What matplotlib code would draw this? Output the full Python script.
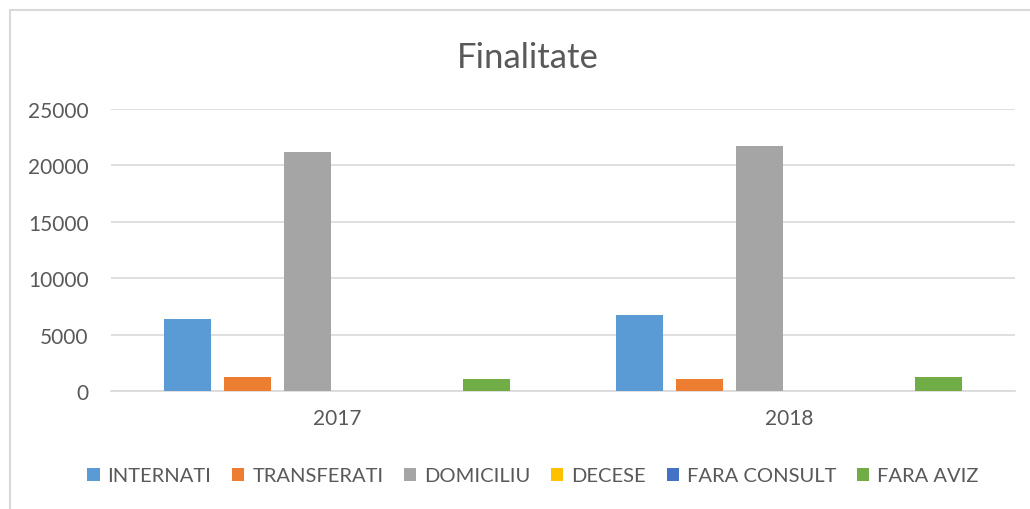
import matplotlib
matplotlib.use("Agg")
import matplotlib.pyplot as plt
from matplotlib.lines import Line2D
import numpy as np

years = ["2017", "2018"]
series_names = ["INTERNATI", "TRANSFERATI", "DOMICILIU", "DECESE", "FARA CONSULT", "FARA AVIZ"]
internati = [6420, 6710]
transferati = [1240, 1040]
domiciliu = [21150, 21690]
decese = [20, 20]
fara_consult = [5, 5]
fara_aviz = [1040, 1280]
yticks = [0, 5000, 10000, 15000, 20000, 25000]

colors = ["#5B9BD5", "#ED7D31", "#A5A5A5", "#FFC000", "#4472C4", "#70AD47"]
text_color = "#595959"

plt.rcParams["font.family"] = ["Lato", "DejaVu Sans"]

fig = plt.figure(figsize=(10.3, 5.1), dpi=100)
ax = fig.add_axes([111 / 1030, 1 - 392 / 510, (1015 - 111) / 1030, (392 - 110) / 510])

values = [internati, transferati, domiciliu, decese, fara_consult, fara_aviz]
x = np.arange(len(years))
pitch = 0.1327
width = 0.104
for j, (name, vals) in enumerate(zip(series_names, values)):
    ax.bar(x + (j - 2.5) * pitch, vals, width, color=colors[j], label=name, zorder=3)

ax.set_xlim(-0.5, 1.5)
ax.set_ylim(0, 25000)
ax.set_yticks(yticks)
ax.set_xticks(x)
ax.set_xticklabels(years)
ax.grid(axis="y", color="#D9D9D9", linewidth=1.2, zorder=0)
for s in ["top", "right", "left"]:
    ax.spines[s].set_visible(False)
ax.spines["bottom"].set_color("#D9D9D9")
ax.spines["bottom"].set_linewidth(1.2)
ax.tick_params(axis="both", length=0, labelsize=15, labelcolor=text_color)
ax.tick_params(axis="y", pad=16)
ax.tick_params(axis="x", pad=12)

fig.text(528 / 1030, 1 - 58 / 510, "Finalitate", ha="center", va="center", fontsize=25, color=text_color)

fig.legend(loc="center", bbox_to_anchor=(0.5175, 1 - 477 / 510), ncol=6, frameon=False,
           fontsize=14.5, labelcolor=text_color, handlelength=0.6, handleheight=0.6,
           handletextpad=0.4, columnspacing=1.03)

# chart area border (only top and left visible in crop)
fig.add_artist(Line2D([10 / 1030, 10 / 1030], [0, 1 - 11 / 510], transform=fig.transFigure, color="#D9D9D9", linewidth=1.5))
fig.add_artist(Line2D([10 / 1030, 1], [1 - 11 / 510, 1 - 11 / 510], transform=fig.transFigure, color="#D9D9D9", linewidth=1.5))

fig.savefig("out.png", dpi=100, facecolor="white")
